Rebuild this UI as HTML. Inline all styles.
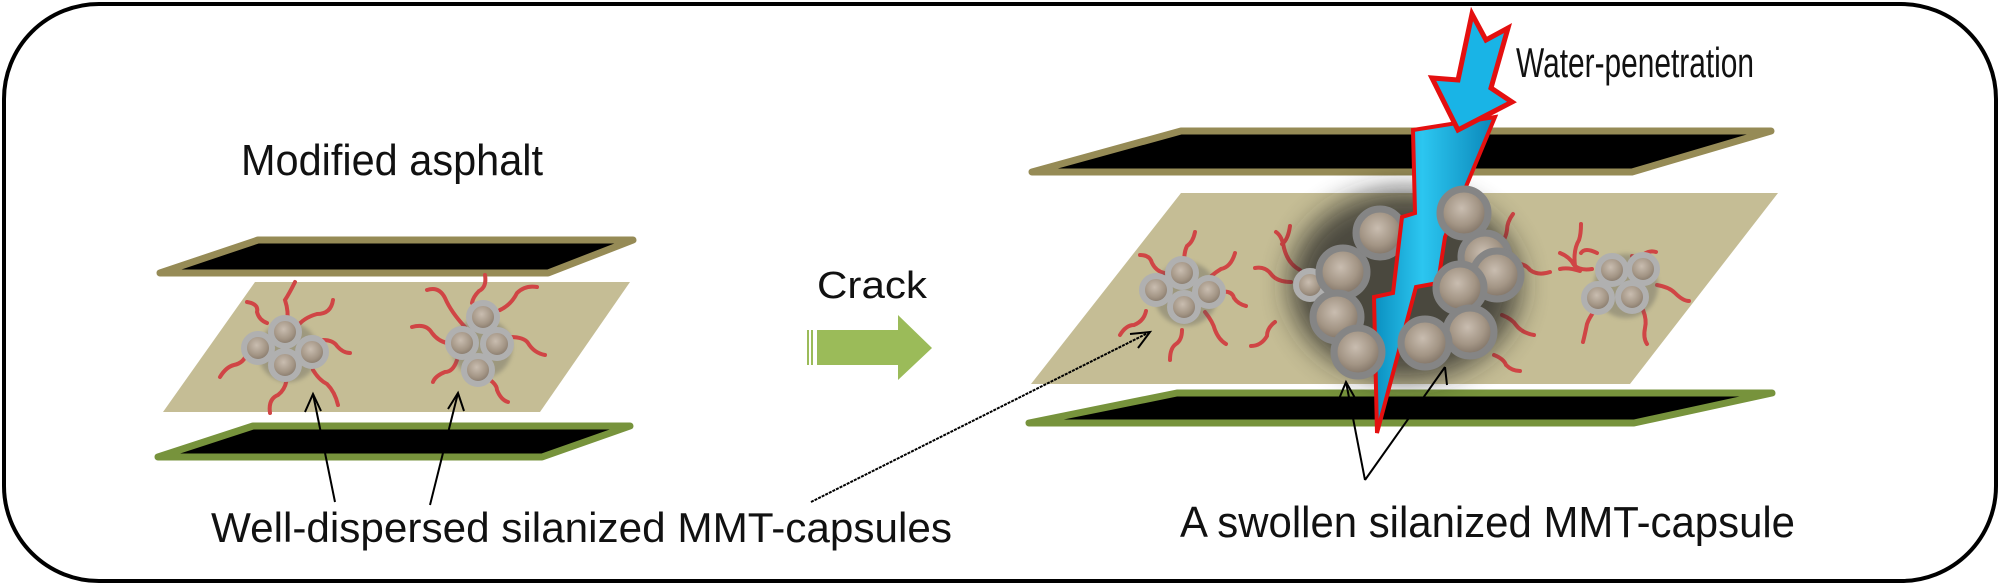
<!DOCTYPE html>
<html><head><meta charset="utf-8"><style>
html,body{margin:0;padding:0;background:#fff}
svg{display:block}
text{font-family:"Liberation Sans",Arial,sans-serif;fill:#111}
</style></head><body>
<svg width="2000" height="585" viewBox="0 0 2000 585" xmlns="http://www.w3.org/2000/svg">
<defs>
<radialGradient id="inner" cx="0.45" cy="0.4" r="0.6">
<stop offset="0" stop-color="#c9bdb0"/><stop offset="0.6" stop-color="#a39585"/><stop offset="1" stop-color="#7d7063"/>
</radialGradient>
<linearGradient id="blue" x1="0" y1="0" x2="1" y2="0">
<stop offset="0" stop-color="#0a8fc0"/><stop offset="0.4" stop-color="#2cc6f0"/><stop offset="1" stop-color="#0a86b8"/>
</linearGradient>
<filter id="blur" x="-50%" y="-50%" width="200%" height="200%"><feGaussianBlur stdDeviation="14"/></filter>
<filter id="sh" x="-20%" y="-20%" width="140%" height="140%"><feGaussianBlur stdDeviation="2"/></filter>
<g id="sc"><circle r="14" fill="url(#inner)" stroke="#b0b0b0" stroke-width="6"/></g>
<g id="bc"><circle r="24" fill="url(#inner)" stroke="#858585" stroke-width="7"/></g>
</defs>

<rect x="4" y="4" width="1992" height="577" rx="95" ry="95" fill="#fff" stroke="#000" stroke-width="4"/>

<!-- LEFT -->
<text x="241" y="175" font-size="44" textLength="302" lengthAdjust="spacingAndGlyphs">Modified asphalt</text>
<polygon points="258,240 633,240 548,273 160,273" fill="#000" stroke="#968b56" stroke-width="7" stroke-linejoin="round"/>
<polygon points="255,282 630,282 540,412 163,412" fill="#c5bd95"/>
<polygon points="253,426 630,426 542,457 158,457" fill="#000" stroke="#77933c" stroke-width="7" stroke-linejoin="round"/>

<g fill="none" stroke="#d04545" stroke-width="4" stroke-linecap="round">
<path d="M247,302 q12,2 10,10 q2,8 10,11"/>
<path d="M295,282 q-6,12 -10,18 q4,12 2,23"/>
<path d="M333,300 q-2,14 -16,14 q-14,4 -20,13"/>
<path d="M323,340 q10,0 14,6 q6,7 13,7"/>
<path d="M220,377 q6,-10 14,-12 q10,-2 13,-12"/>
<path d="M270,413 q-2,-14 8,-18 q8,-6 9,-18"/>
<path d="M313,370 q6,10 14,14 q8,8 11,21"/>
<path d="M485,275 q2,12 -6,16 q-6,6 -7,12"/>
<path d="M427,290 q12,-4 18,8 q6,14 20,29"/>
<path d="M537,287 q-12,-2 -20,6 q-6,12 -17,17"/>
<path d="M412,327 q14,-4 20,6 q6,8 15,10"/>
<path d="M510,337 q14,0 18,6 q6,10 17,12"/>
<path d="M457,360 q-4,12 -12,12 q-10,4 -12,10"/>
<path d="M487,378 q10,6 10,12 q4,10 11,12"/>
</g>
<g filter="url(#sh)" opacity="0.35"><circle cx="288" cy="352" r="30" fill="#555"/><circle cx="482" cy="348" r="30" fill="#555"/></g>
<use href="#sc" x="258" y="348"/><use href="#sc" x="285" y="332"/><use href="#sc" x="312" y="352"/><use href="#sc" x="285" y="365"/>
<use href="#sc" x="483" y="317"/><use href="#sc" x="462" y="343"/><use href="#sc" x="497" y="344"/><use href="#sc" x="478" y="370"/>

<g fill="none" stroke="#000" stroke-width="2">
<line x1="335" y1="502" x2="313" y2="394"/>
<polyline points="305,412 313,394 321,411"/>
<line x1="430" y1="505" x2="458" y2="393"/>
<polyline points="448,409 458,393 464,411"/>
</g>
<text x="211" y="542" font-size="42" textLength="741" lengthAdjust="spacingAndGlyphs">Well-dispersed silanized MMT-capsules</text>

<!-- MIDDLE -->
<text x="817" y="298" font-size="38" textLength="110" lengthAdjust="spacingAndGlyphs">Crack</text>
<rect x="807" y="330" width="2" height="35" fill="#9bbb59"/>
<rect x="811" y="330" width="2" height="35" fill="#9bbb59"/>
<polygon points="817,330 898,330 898,315 932,348 898,380 898,365 817,365" fill="#9bbb59"/>

<!-- RIGHT -->
<polygon points="1181,131 1771,131 1632,172 1032,172" fill="#000" stroke="#968b56" stroke-width="7" stroke-linejoin="round"/>
<polygon points="1181,193 1778,193 1630,384 1031,384" fill="#c5bd95"/>
<polygon points="1177,393 1772,393 1634,423 1029,423" fill="#000" stroke="#77933c" stroke-width="7" stroke-linejoin="round"/>

<g fill="none" stroke="#d04545" stroke-width="4" stroke-linecap="round">
<path d="M1140,255 q10,0 12,8 q4,8 12,10"/>
<path d="M1195,232 q-2,10 -8,14 q-4,8 -2,20"/>
<path d="M1235,253 q-4,14 -14,16 q-10,6 -16,14"/>
<path d="M1220,292 q12,-2 14,6 q4,6 12,8"/>
<path d="M1120,335 q6,-10 14,-10 q10,-4 12,-14"/>
<path d="M1170,360 q0,-12 6,-16 q6,-4 6,-14"/>
<path d="M1205,312 q8,10 10,18 q4,10 11,14"/>
<path d="M1276,232 q6,4 8,16 q4,16 16,22"/>
<path d="M1255,268 q10,-2 16,6 q6,8 20,8"/>
<path d="M1275,322 q-8,6 -8,14 q-6,10 -16,10"/>
<path d="M1290,226 q-2,14 -8,18"/>
<path d="M1513,214 q-6,8 -6,16 q-2,14 -14,20"/>
<path d="M1512,264 q12,-2 18,6 q8,6 20,2"/>
<path d="M1560,269 q8,-2 20,2"/>
<path d="M1502,315 q10,4 14,10 q6,8 18,10"/>
<path d="M1494,355 q10,4 12,10 q6,6 14,6"/>
<path d="M1581,224 q0,10 -2,16 q-6,10 -4,26"/>
<path d="M1560,253 q10,4 14,12 q6,6 18,4"/>
<path d="M1597,253 q-12,-6 -16,0"/>
<path d="M1656,252 q-6,-2 -12,2 q-6,4 -12,2"/>
<path d="M1657,285 q12,2 18,8 q8,8 14,8"/>
<path d="M1595,310 q-6,8 -8,14 q-2,10 -4,18"/>
<path d="M1643,310 q4,10 2,18 q-2,10 2,16"/>
</g>
<g filter="url(#sh)" opacity="0.35"><circle cx="1186" cy="294" r="32" fill="#555"/><circle cx="1626" cy="286" r="32" fill="#555"/></g>
<use href="#sc" x="1182" y="273"/><use href="#sc" x="1156" y="290"/><use href="#sc" x="1209" y="292"/><use href="#sc" x="1184" y="307"/>
<use href="#sc" x="1612" y="270"/><use href="#sc" x="1643" y="269"/><use href="#sc" x="1598" y="298"/><use href="#sc" x="1632" y="297"/>

<ellipse cx="1405" cy="285" rx="115" ry="95" fill="#222" opacity="0.75" filter="url(#blur)"/>
<use href="#sc" x="1310" y="285"/>
<use href="#bc" x="1343" y="272"/>
<use href="#bc" x="1380" y="233"/>
<use href="#bc" x="1337" y="317"/>

<polygon points="1413,130 1495,117 1445,237 1438,283 1416,287 1377,433 1374,297 1393,293 1402,217 1415,213" fill="url(#blue)" stroke="#e41010" stroke-width="4" stroke-linejoin="miter"/>

<use href="#bc" x="1464" y="213"/>
<use href="#bc" x="1485" y="257"/>
<use href="#bc" x="1497" y="275"/>
<use href="#bc" x="1460" y="288"/>
<use href="#bc" x="1470" y="332"/>
<use href="#bc" x="1358" y="352"/>
<use href="#bc" x="1425" y="343"/>

<polygon points="1472,14 1486,40 1508,28 1491,88 1512,102 1458,130 1432,78 1458,80" fill="#19b4e6" stroke="#e41010" stroke-width="5" stroke-linejoin="miter"/>
<text x="1516" y="77" font-size="42" textLength="238" lengthAdjust="spacingAndGlyphs">Water-penetration</text>

<g fill="none" stroke="#000" stroke-width="2">
<line x1="811" y1="502" x2="1150" y2="332" stroke-dasharray="3,1"/>
<polyline points="1130,334 1150,332 1138,348"/>
<line x1="1365" y1="480" x2="1346" y2="382"/>
<polyline points="1339,399 1346,382 1355,398"/>
<line x1="1365" y1="480" x2="1445" y2="367"/>
<line x1="1445" y1="367" x2="1447" y2="385"/>
</g>
<text x="1180" y="537" font-size="44" textLength="615" lengthAdjust="spacingAndGlyphs">A swollen  silanized MMT-capsule</text>
</svg>
</body></html>
